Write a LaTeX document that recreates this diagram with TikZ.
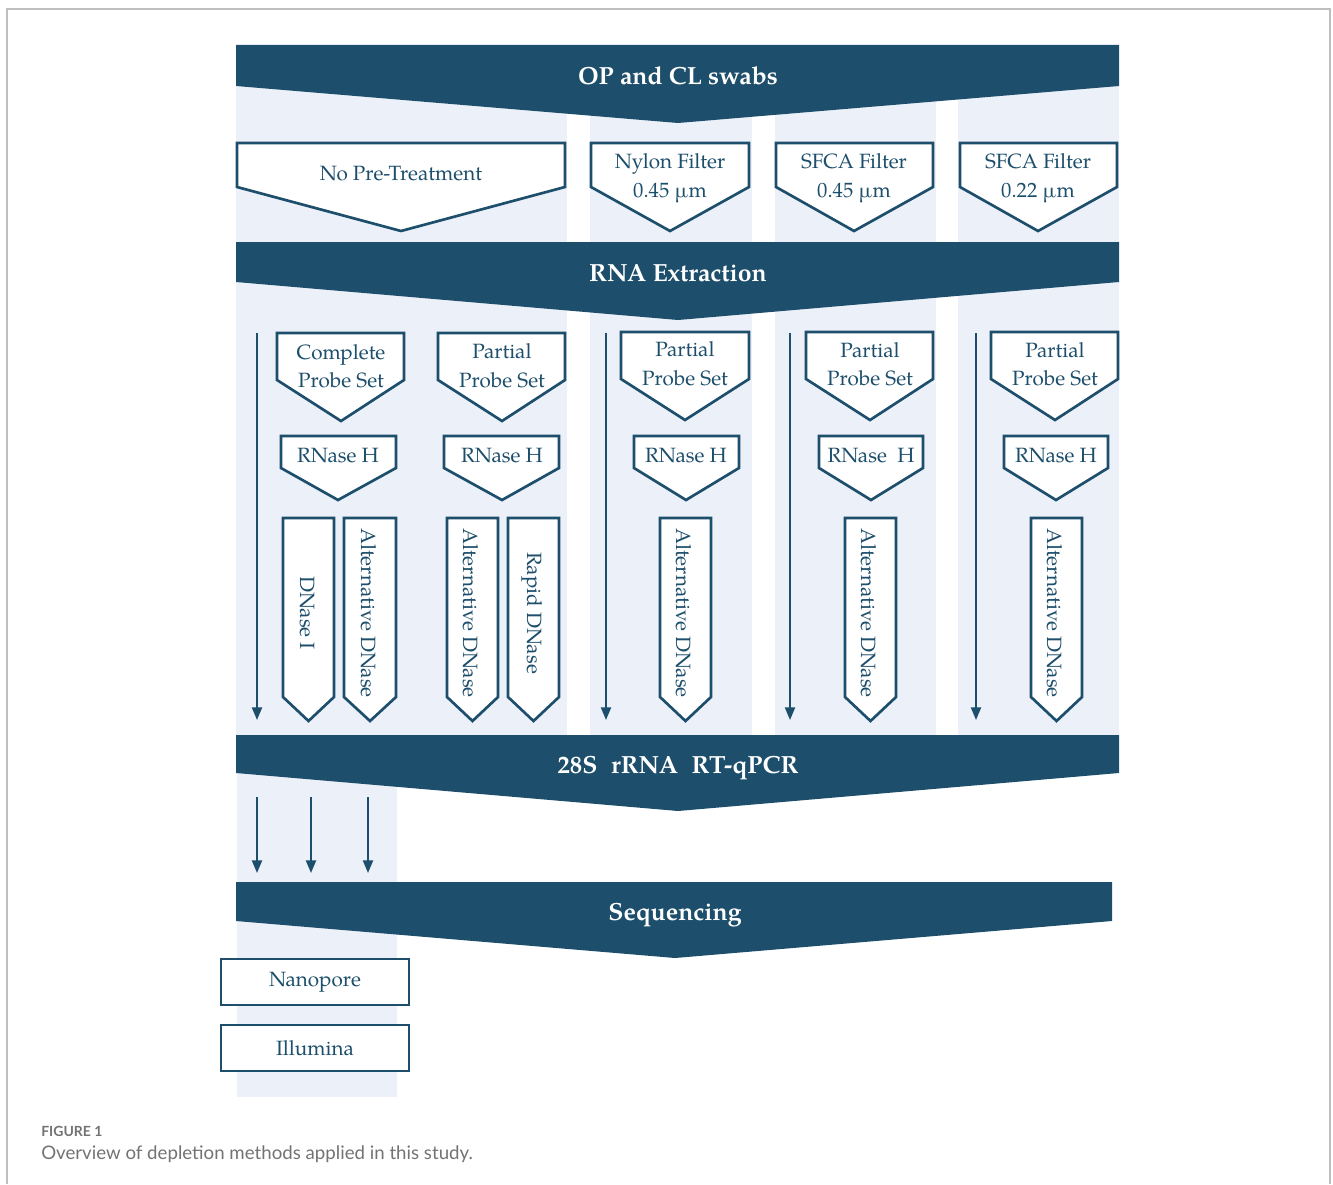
\documentclass[tikz,border=0pt]{standalone}
\usepackage{fontspec}
\setmainfont{TeX Gyre Pagella}
\newfontfamily\capfont{Lato}
\usetikzlibrary{arrows.meta}
\definecolor{dark}{RGB}{29,78,107}
\definecolor{pale}{RGB}{235,240,249}
\definecolor{framegray}{RGB}{190,190,190}
\definecolor{capgray}{RGB}{115,115,115}
\tikzset{
  bannerfill/.style={fill=dark,draw=none},
  bannertext/.style={text=white,font=\fontsize{18.6}{22}\selectfont\bfseries,anchor=base,inner sep=0pt},
  chevshape/.style={draw=dark,line width=2pt,fill=white,line join=miter},
  boxtext/.style={text=dark,font=\fontsize{15.5}{21}\selectfont,anchor=base,inner sep=0pt},
  vtext/.style={text=dark,font=\fontsize{15.5}{21}\selectfont,rotate=-90,anchor=center,inner sep=0pt},
  flow/.style={draw=dark,line width=1.6pt,-{Triangle[width=7.5pt,length=9.5pt]}},
  colfill/.style={fill=pale,draw=none},
  seqbox/.style={draw=dark,line width=2pt,fill=white,minimum width=141pt,minimum height=34.5pt,inner sep=0pt,text=dark,font=\fontsize{15.5}{21}\selectfont},
}
% chevron: x1, x2, ytop, yside, xtip, ytip
\newcommand\chev[6]{\draw[chevshape] (#1,#3) -- (#2,#3) -- (#2,#4) -- (#5,#6) -- (#1,#4) -- cycle;}
\begin{document}
\begin{tikzpicture}[x=0.75pt,y=-0.75pt]
\useasboundingbox (0,0) rectangle (1333,1184);
\draw[framegray,line width=1.5pt] (7,1184) -- (7,9) -- (1330,9) -- (1330,1184);

% pale columns
\fill[colfill] (236,45) rectangle (567,735);
\fill[colfill] (590,45) rectangle (752,735);
\fill[colfill] (775,45) rectangle (936,735);
\fill[colfill] (958,45) rectangle (1119,735);
\fill[colfill] (237,773) rectangle (397,1097);

% banners
\fill[bannerfill] (236,45) -- (1119,45) -- (1119,86) -- (678,123) -- (236,86) -- cycle;
\node[bannertext] (swabs) at (678,85) {OP and CL swabs};
\fill[bannerfill] (236,242) -- (1119,242) -- (1119,282) -- (678,320) -- (236,282) -- cycle;
\node[bannertext] (rna) at (678,281) {RNA Extraction};
\fill[bannerfill] (236,735) -- (1119,735) -- (1119,773) -- (678,811) -- (236,773) -- cycle;
\node[bannertext] (qpcr) at (678,773) {28S\hspace{0.55em}rRNA\hspace{0.55em}RT-qPCR};
\fill[bannerfill] (236,882) -- (1112,882) -- (1112,921) -- (675,958) -- (236,921) -- cycle;
\node[bannertext] (seq) at (675,920) {Sequencing};

% pre-treatment
\chev{237}{565}{143}{187}{401}{231}
\node[boxtext] (nopre) at (401,180) {No Pre-Treatment};
\chev{591}{749}{143}{187}{670}{231}
\node[boxtext] (nylonA) at (670,168) {Nylon Filter};
\node[boxtext] (nylonB) at (670,197) {0.45 µm};
\chev{776}{933}{143}{187}{854}{231}
\node[boxtext] (sfcaA) at (854,168) {SFCA Filter};
\node[boxtext] (sfcaB) at (854,197) {0.45 µm};
\chev{960}{1117}{143}{187}{1038}{231}
\node[boxtext] (sfcbA) at (1038,168) {SFCA Filter};
\node[boxtext] (sfcbB) at (1038,197) {0.22 µm};

% probe sets
\chev{277}{404}{333}{380}{341}{421}
\node[boxtext] (pcA) at (341,359) {Complete};
\node[boxtext] (pcB) at (341,387) {Probe Set};
\chev{438}{565}{333}{380}{502}{421}
\node[boxtext] (p1A) at (502,358) {Partial};
\node[boxtext] (p1B) at (502,387) {Probe Set};
\chev{621}{749}{332}{379}{685}{420}
\node[boxtext] (p2A) at (685,356) {Partial};
\node[boxtext] (p2B) at (685,385) {Probe Set};
\chev{806}{933}{332}{379}{870}{420}
\node[boxtext] (p3A) at (870,357) {Partial};
\node[boxtext] (p3B) at (870,385) {Probe Set};
\chev{991}{1118}{332}{379}{1055}{420}
\node[boxtext] (p4A) at (1055,357) {Partial};
\node[boxtext] (p4B) at (1055,385) {Probe Set};

% RNase H
\chev{281}{396}{436}{468}{338}{500}
\node[boxtext] (r1) at (338,462) {RNase H};
\chev{444}{559}{436}{468}{502}{500}
\node[boxtext] (r2) at (502,462) {RNase H};
\chev{634}{739}{436}{468}{686}{500}
\node[boxtext] (r3) at (686,462) {RNase H};
\chev{819}{923}{436}{468}{871}{500}
\node[boxtext] (r4) at (871,462) {RNase\hspace{0.5em}H};
\chev{1004}{1108}{436}{468}{1056}{500}
\node[boxtext] (r5) at (1056,462) {RNase H};

% DNase
\chev{283}{334}{518}{697}{308.5}{721}
\node[vtext] (d1) at (307,613) {DNase I};
\chev{344}{396}{518}{697}{370}{721}
\node[vtext] (d2) at (369,613) {Alternative DNase};
\chev{447}{498}{518}{697}{472.5}{721}
\node[vtext] (d3) at (471,613) {Alternative DNase};
\chev{508}{559}{518}{697}{533.5}{721}
\node[vtext] (d4) at (532,613) {Rapid DNase};
\chev{660}{711}{518}{697}{685.5}{721}
\node[vtext] (d5) at (684,613) {Alternative DNase};
\chev{845}{896}{518}{697}{870.5}{721}
\node[vtext] (d6) at (869,613) {Alternative DNase};
\chev{1031}{1082}{518}{697}{1056.5}{721}
\node[vtext] (d7) at (1055,613) {Alternative DNase};

% bypass arrows
\coordinate (a1s) at (257,333); \coordinate (a1e) at (257,720);
\coordinate (a2s) at (606,333); \coordinate (a2e) at (606,720);
\coordinate (a3s) at (790,333); \coordinate (a3e) at (790,720);
\coordinate (a4s) at (976,333); \coordinate (a4e) at (976,720);
\draw[flow] (a1s) -- (a1e);
\draw[flow] (a2s) -- (a2e);
\draw[flow] (a3s) -- (a3e);
\draw[flow] (a4s) -- (a4e);

\coordinate (b1s) at (257,797); \coordinate (b1e) at (257,873);
\coordinate (b2s) at (311,797); \coordinate (b2e) at (311,873);
\coordinate (b3s) at (368,797); \coordinate (b3e) at (368,873);
\draw[flow] (b1s) -- (b1e);
\draw[flow] (b2s) -- (b2e);
\draw[flow] (b3s) -- (b3e);

% sequencing platforms
\node[seqbox] (nano) at (315,982) {Nanopore};
\node[seqbox] (illu) at (315,1048) {Illumina};

% caption
\node[anchor=base west,inner sep=0pt,text=capgray,font=\capfont\bfseries\fontsize{10.5}{12}\selectfont] (figlab) at (41,1136) {FIGURE 1};
\node[anchor=base west,inner sep=0pt,text=capgray,font=\capfont\fontsize{14}{16}\selectfont] (figcap) at (41,1159) {Overview of depletion methods applied in this study.};
\end{tikzpicture}
\end{document}
